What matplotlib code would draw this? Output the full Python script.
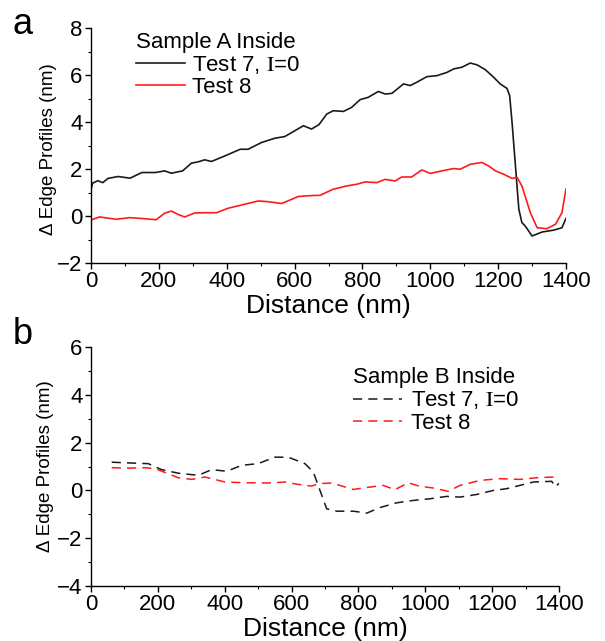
import matplotlib
matplotlib.use("Agg")
import matplotlib.pyplot as plt
from matplotlib.ticker import MultipleLocator

plt.rcParams['font.family'] = ['Liberation Sans', 'DejaVu Sans']
plt.rcParams['mathtext.fontset'] = 'stix'

# panel a, solid lines
a7_x = [0, 5, 20, 35, 50, 80, 115, 150, 190, 217, 237, 270, 296, 315, 335, 355, 395,
        440, 463, 503, 542, 571, 601, 626, 650, 672, 695, 714, 744, 768, 793, 817,
        847, 867, 887, 921, 941, 960, 990, 1019, 1049, 1069, 1093, 1118, 1138, 1162,
        1187, 1206, 1226, 1234, 1241, 1251, 1261, 1270, 1280, 1300, 1330, 1364, 1388, 1400]
a7_y = [1.15, 1.4, 1.5, 1.42, 1.6, 1.68, 1.61, 1.85, 1.85, 1.92, 1.82, 1.92, 2.25, 2.3,
        2.39, 2.32, 2.56, 2.84, 2.84, 3.13, 3.31, 3.38, 3.63, 3.84, 3.7, 3.89, 4.34, 4.48,
        4.45, 4.62, 4.95, 5.05, 5.3, 5.19, 5.22, 5.62, 5.55, 5.69, 5.93, 5.97, 6.11, 6.26,
        6.33, 6.51, 6.43, 6.23, 5.9, 5.62, 5.43, 5.12, 3.98, 2.13, 0.29, -0.28, -0.43,
        -0.85, -0.68, -0.6, -0.5, -0.1]
a8_x = [0, 25, 74, 114, 153, 192, 217, 237, 256, 276, 306, 335, 370, 404, 453, 493, 522,
        562, 611, 650, 675, 714, 754, 783, 808, 842, 867, 896, 916, 945, 975, 1000, 1034,
        1069, 1088, 1118, 1152, 1172, 1192, 1216, 1241, 1256, 1270, 1295, 1315, 1344,
        1369, 1388, 1400]
a8_y = [-0.17, -0.04, -0.14, -0.07, -0.11, -0.16, 0.12, 0.21, 0.07, -0.04, 0.13, 0.14,
        0.14, 0.33, 0.5, 0.64, 0.61, 0.53, 0.83, 0.87, 0.88, 1.14, 1.28, 1.35, 1.45, 1.42,
        1.56, 1.49, 1.66, 1.66, 1.96, 1.81, 1.92, 2.02, 1.99, 2.2, 2.28, 2.13, 1.92, 1.78,
        1.6, 1.64, 1.28, 0.14, -0.5, -0.54, -0.35, 0.14, 1.15]

# panel b, dashed lines
b7_x = [62, 112, 151, 171, 211, 261, 321, 361, 406, 451, 500, 550, 590, 640, 665, 685,
        705, 735, 785, 825, 864, 914, 964, 1014, 1064, 1104, 1154, 1204, 1243, 1283,
        1323, 1378, 1390, 1400]
b7_y = [1.18, 1.15, 1.13, 1.12, 0.87, 0.72, 0.63, 0.87, 0.8, 1.05, 1.12, 1.39, 1.39,
        1.12, 0.77, 0.0, -0.77, -0.87, -0.87, -0.95, -0.72, -0.52, -0.42, -0.35, -0.25,
        -0.28, -0.17, 0.0, 0.07, 0.21, 0.35, 0.38, 0.15, 0.3]
b8_x = [62, 112, 161, 191, 231, 261, 301, 341, 361, 401, 461, 530, 580, 620, 660, 680,
        720, 785, 835, 874, 909, 949, 984, 1024, 1069, 1104, 1134, 1164, 1223, 1283,
        1333, 1383, 1400]
b8_y = [0.95, 0.93, 0.95, 0.91, 0.7, 0.53, 0.46, 0.56, 0.49, 0.35, 0.32, 0.31, 0.35,
        0.25, 0.18, 0.28, 0.31, 0.04, 0.14, 0.21, 0.03, 0.32, 0.17, 0.1, -0.04, 0.21,
        0.31, 0.42, 0.49, 0.46, 0.53, 0.56, 0.63]

lab7 = r"Test 7, $\mathrm{I}$=0"
lab8 = "Test 8"
RED = "#ff1a1a"
BLK = "#1a1a1a"
FS = 16

W, H = 605, 641
fig = plt.figure(figsize=(W / 100, H / 100), dpi=100)
ax1 = fig.add_axes([91 / W, 1 - 263 / H, 475 / W, 235 / H])
ax2 = fig.add_axes([91 / W, 1 - 586 / H, 468 / W, 239 / H])


def style(ax, ylim, yticks, ylab_pos):
    ax.set_xlim(0, 1400)
    ax.set_ylim(*ylim)
    ax.set_yticks(yticks)
    ax.xaxis.set_major_locator(MultipleLocator(200))
    ax.xaxis.set_minor_locator(MultipleLocator(100))
    ax.yaxis.set_minor_locator(MultipleLocator(1))
    for s in ["top", "right"]:
        ax.spines[s].set_visible(False)
    for s in ["left", "bottom"]:
        ax.spines[s].set_linewidth(1.0)
    ax.tick_params(which="major", direction="out", length=4, width=1, labelsize=FS, pad=2)
    ax.tick_params(which="minor", direction="out", length=2.5, width=0.8)
    ax.set_xlabel("Distance (nm)", fontsize=19, labelpad=1)
    ax.set_ylabel("\u0394 Edge Profiles (nm)", fontsize=13.5)
    ax.yaxis.set_label_coords(*ylab_pos)


ax1.plot(a7_x, a7_y, color=BLK, lw=1.2, label=lab7)
ax1.plot(a8_x, a8_y, color=RED, lw=1.2, label=lab8)
style(ax1, (-2, 8), [-2, 0, 2, 4, 6, 8], (-0.072, 0.485))
ax1.legend(loc="upper left", bbox_to_anchor=(0.095, 0.985), frameon=False,
           title="Sample A Inside", fontsize=FS, title_fontsize=FS,
           alignment="left", handlelength=2.2, handletextpad=0.3,
           labelspacing=0.05, borderpad=0, borderaxespad=0)

ax2.plot(b7_x, b7_y, color=BLK, lw=1.1, ls=(0, (6, 4)), label=lab7)
ax2.plot(b8_x, b8_y, color=RED, lw=1.1, ls=(0, (6, 4)), label=lab8)
style(ax2, (-4, 6), [-4, -2, 0, 2, 4, 6], (-0.08, 0.50))
ax2.legend(loc="upper left", bbox_to_anchor=(0.56, 0.915), frameon=False,
           title="Sample B Inside", fontsize=FS, title_fontsize=FS,
           alignment="left", handlelength=2.2, handletextpad=0.4,
           labelspacing=0.05, borderpad=0, borderaxespad=0)

fig.text(13 / W, 1 - 34 / H, "a", fontsize=26)
fig.text(13 / W, 1 - 344 / H, "b", fontsize=26)

fig.savefig("out.png", dpi=100)
